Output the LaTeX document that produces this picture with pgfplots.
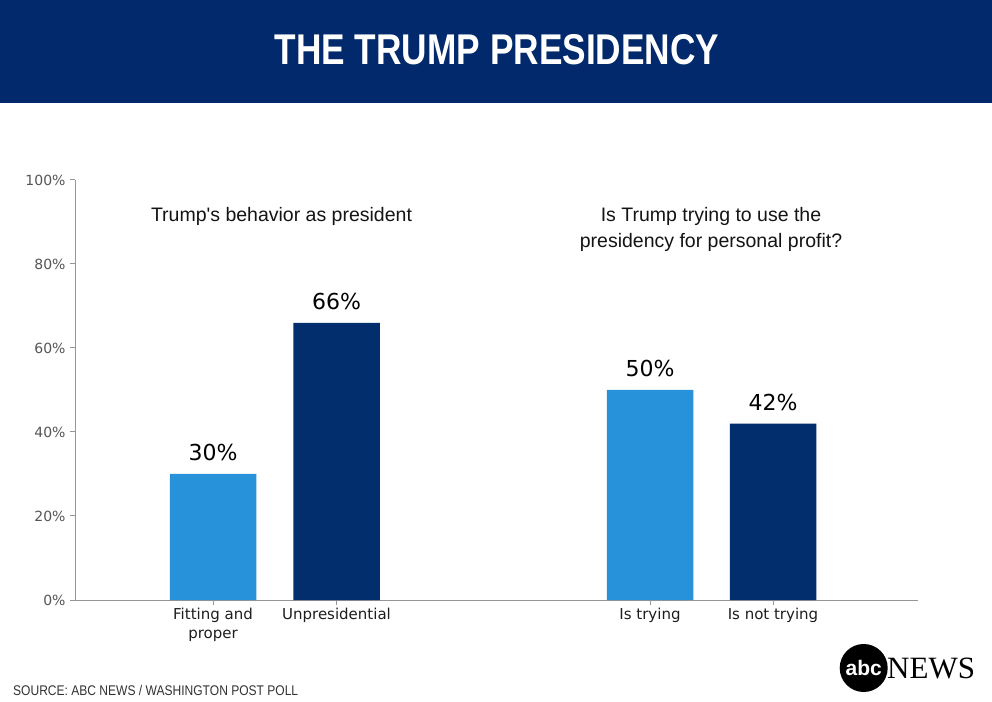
\documentclass[border=0pt]{standalone}
\usepackage{pgfplots}
\pgfplotsset{compat=1.18}
\usepackage{fontspec}
\setmainfont{Liberation Sans}
\newfontfamily\dejavu{DejaVu Sans}
\newfontfamily\titlefont{Liberation Sans}[FakeStretch=0.82]
\newfontfamily\srcfont{Liberation Sans}[FakeStretch=0.86]
\newfontfamily\newsfont{Liberation Serif}
\definecolor{banner}{RGB}{1,41,107}
\definecolor{lightbar}{RGB}{39,146,217}
\definecolor{darkbar}{RGB}{3,46,110}
\definecolor{axisgray}{RGB}{150,150,150}
\definecolor{ticktext}{RGB}{85,85,85}
\definecolor{labeltext}{RGB}{30,30,30}
\begin{document}
\begin{tikzpicture}[x=1pt,y=1pt]
\fill[white] (0,0) rectangle (992,701);
\fill[banner] (0,598) rectangle (992,701);
\node[anchor=base, text=white, inner sep=0pt] at (497,636)
  {\titlefont\bfseries\fontsize{43}{46}\selectfont THE TRUMP PRESIDENCY};

\begin{axis}[
  at={(75pt,101pt)}, anchor=south west,
  scale only axis, width=843pt, height=420pt,
  xmin=75, xmax=918, ymin=0, ymax=100,
  axis lines*=left,
  axis line style={axisgray, line width=1pt},
  tick style={axisgray, line width=1pt},
  tick align=outside, major tick length=5pt,
  /pgf/number format/assume math mode=true,
  ytick={0,20,40,60,80,100},
  yticklabels={0\%,20\%,40\%,60\%,80\%,100\%},
  yticklabel style={font=\dejavu\fontsize{14}{16}\selectfont, text=ticktext, xshift=-1pt},
  xtick={213,336.5,650,773},
  xticklabels={{Fitting and\\proper},Unpresidential,Is trying,Is not trying},
  xticklabel style={font=\dejavu\fontsize{15}{19}\selectfont, text=labeltext, align=center},
  bar width=86.5,
  nodes near coords={\pgfmathprintnumber[assume math mode=true]{\pgfplotspointmeta}\%},
  nodes near coords style={font=\dejavu\fontsize{22}{24}\selectfont, text=black, anchor=base, yshift=13.5pt, inner sep=0pt},
  clip=false,
]
\addplot[ybar, bar shift=0pt, fill=lightbar, draw=none] coordinates {(213,30) (650,50)};
\addplot[ybar, bar shift=0pt, fill=darkbar, draw=none] coordinates {(336.5,66) (773,42)};
\end{axis}

\node[anchor=base, inner sep=0pt, text={rgb,255:red,20;green,20;blue,20}] at (281.5,479)
  {\fontsize{19.5}{22}\selectfont Trump\textquotesingle s behavior as president};
\node[anchor=base, inner sep=0pt, text={rgb,255:red,20;green,20;blue,20}] at (711,479)
  {\fontsize{19.5}{22}\selectfont Is Trump trying to use the};
\node[anchor=base, inner sep=0pt, text={rgb,255:red,20;green,20;blue,20}] at (711,453)
  {\fontsize{19.5}{22}\selectfont presidency for personal profit?};

\node[anchor=base west, inner sep=0pt, text={rgb,255:red,50;green,50;blue,50}] at (13,6)
  {\srcfont\fontsize{14}{16}\selectfont SOURCE: ABC NEWS / WASHINGTON POST POLL};

\fill[black] (863.7,33) circle (24);
\node[text=white, inner sep=0pt] at (863.7,33)
  {\bfseries\fontsize{21}{22}\selectfont abc};
\node[anchor=base west, inner sep=0pt] at (887,23)
  {\newsfont\fontsize{31}{33}\selectfont NEWS};

\pgfresetboundingbox
\useasboundingbox (0,0) rectangle (992,701);
\end{tikzpicture}
\end{document}
